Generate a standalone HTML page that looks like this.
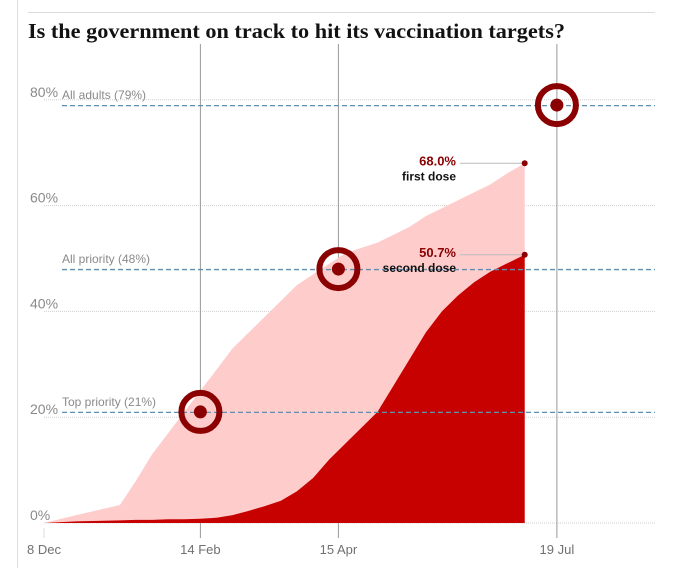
<!DOCTYPE html>
<html><head><meta charset="utf-8"><style>
body{margin:0;background:#fff;width:687px;height:568px;overflow:hidden}
svg{display:block}
text{font-family:"Liberation Sans",sans-serif}
</style></head><body>
<svg width="687" height="568">
<line x1="17.5" y1="0" x2="17.5" y2="568" stroke="#dcdcdc"/>
<line x1="28" y1="12.5" x2="655" y2="12.5" stroke="#dcdcdc"/>
<text x="28" y="38" font-weight="bold" font-size="21" fill="#121212" textLength="537" lengthAdjust="spacingAndGlyphs" style="font-family:'Liberation Serif',serif">Is the government on track to hit its vaccination targets?</text>
<g id="grid"></g><g id="areas"></g><g id="overlay"></g>
</svg>
<script>
const yTicks=[0,20,40,60,80];
const dateLabels=["8 Dec","14 Feb","15 Apr","19 Jul"];
const dateDays=[0,68,128,223];
const days=[0,14,33,40,47,54,61,68,75,82,89,96,103,110,117,124,131,138,145,152,159,166,173,180,187,194,201,209];
const firstDose=[0,1.5,3.4,8,13,17,21,25,29,33,36,39,42,45,47,49,51,52,53,54.5,56,58,59.5,61,62.5,64,66,68.0];
const secondDose=[0,0.3,0.5,0.6,0.6,0.7,0.7,0.8,1,1.5,2.3,3.2,4.2,6,8.5,12,15,18,21,26,31,36,40,43,45.5,47.5,49,50.7];
const targetLabels=["Top priority (21%)","All priority (48%)","All adults (79%)"];
const targetValues=[21,48,79];
const targetDays=[68,128,223];
const x=d=>44+d*2.3, y=v=>523-v*5.29;
const NS="http://www.w3.org/2000/svg";
function mk(t,a,p){const e=document.createElementNS(NS,t);for(const k in a)e.setAttribute(k,a[k]);p.appendChild(e);return e;}
const g=document.getElementById('grid'),ar=document.getElementById('areas'),ov=document.getElementById('overlay');
yTicks.forEach(v=>{
 const l=mk('line',{x1:44,x2:655,y1:y(v),y2:y(v),stroke:'#cfcfcf','stroke-dasharray':'1,1'},g);
 
 
 const t=mk('text',{x:30,y:y(v)-3,'font-size':14,fill:'#8a8a8a'},g);t.textContent=v+'%';
 
 
});
dateDays.forEach((d,i)=>{
 const l=mk('line',{x1:x(d),x2:x(d),y1:i==0?528:44,y2:538,stroke:i==0?'#ddd':'#999'},g);
 
 
 const t=mk('text',{x:x(d),y:554,'font-size':13,fill:'#707070','text-anchor':'middle'},g);t.textContent=dateLabels[i];
 
 
});
function area(arr,col,name){
 let p='M'+x(days[0])+','+y(0);
 arr.forEach((v,i)=>p+='L'+x(days[i])+','+y(v));
 p+='L'+x(days[days.length-1])+','+y(0)+'Z';
 const e=mk('path',{d:p,fill:col},ar);
 
 
}
area(firstDose,'#ffcccc','first-dose-area');
area(secondDose,'#c70000','second-dose-area');
targetValues.forEach((v,i)=>{
 const l=mk('line',{x1:62,x2:655,y1:y(v)+0.5,y2:y(v)+0.5,stroke:'#5f8fb0','stroke-width':1.3,'stroke-dasharray':'5,3'},ov);
 
 
 const t=mk('text',{x:62,y:y(v)-6,'font-size':12,fill:'#8a8a8a'},ov);t.textContent=targetLabels[i];
 
 
 const c=mk('circle',{cx:x(targetDays[i]),cy:y(v),r:19,fill:'none',stroke:'#8b0000','stroke-width':6},ov);
 
 
 const d=mk('circle',{cx:x(targetDays[i]),cy:y(v),r:6.5,fill:'#8b0000'},ov);
 
 
});
const last=days.length-1;
[[firstDose,'first dose'],[secondDose,'second dose']].forEach(([arr,lab])=>{
 const v=arr[last],yy=y(v);
 const l=mk('line',{x1:460,x2:x(days[last]),y1:yy,y2:yy,stroke:'#bbb'},ov);
 
 
 const d=mk('circle',{cx:x(days[last]),cy:yy,r:3,fill:'#8b0000'},ov);
 
 
 const t1=mk('text',{x:456,y:yy+2,'font-size':13,'font-weight':'bold',fill:'#8b0000','text-anchor':'end'},ov);t1.textContent=v.toFixed(1)+'%';
 
 
 const t2=mk('text',{x:456,y:yy+17,'font-size':12,'font-weight':'bold',fill:'#121212','text-anchor':'end'},ov);t2.textContent=lab;
 
 
});
</script>
</body></html>
